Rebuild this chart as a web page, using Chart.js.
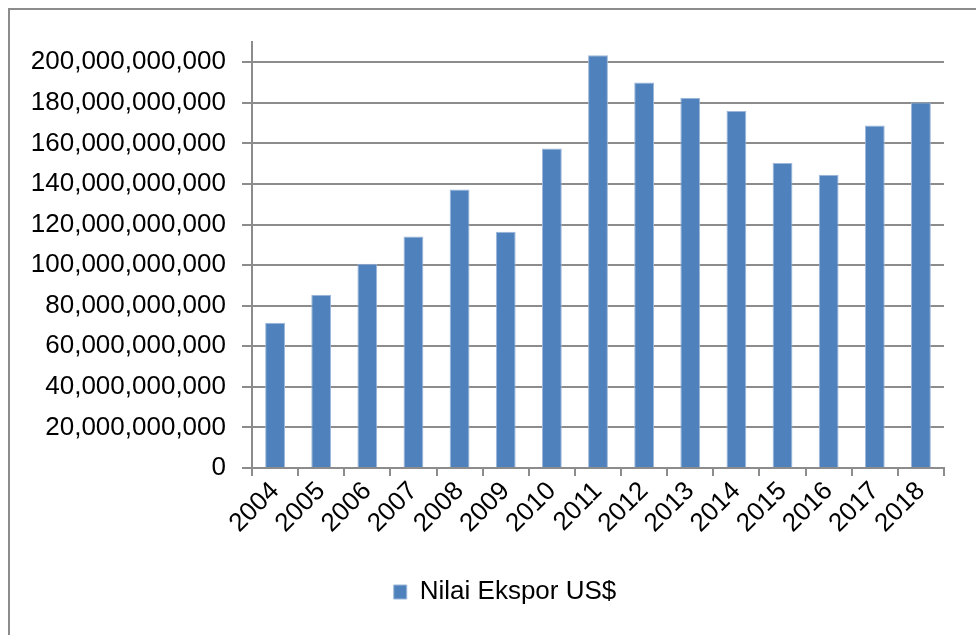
<!DOCTYPE html>
<html>
<head>
<meta charset="utf-8">
<script src="https://cdn.jsdelivr.net/npm/chart.js@4.4.1/dist/chart.umd.min.js"></script>
<style>
    html, body { margin: 0; padding: 0; background: #fff; overflow: hidden; }
    #wrap { position: relative; width: 976px; height: 635px; }
    #frame {
        position: absolute; left: 8px; top: 8px; width: 1000px; height: 700px;
        border-left: 2px solid #8c8c8c; border-top: 2px solid #8c8c8c;
    }
    #exportChart { position: absolute; left: 0; top: 0; }
</style>
</head>
<body>
<div id="wrap">
    <div id="frame"></div>
    <canvas id="exportChart" width="976" height="635"></canvas>
</div>
<script>
// Data
const years = ['2004', '2005', '2006', '2007', '2008', '2009', '2010', '2011',
    '2012', '2013', '2014', '2015', '2016', '2017', '2018'];
const exportValues = [71.6e9, 85.4e9, 100.7e9, 114.1e9, 137.3e9, 116.5e9, 157.5e9, 203.5e9,
    190.0e9, 182.5e9, 176.0e9, 150.4e9, 144.5e9, 168.8e9, 180.2e9];
const yTickValues = [0, 20e9, 40e9, 60e9, 80e9, 100e9, 120e9, 140e9, 160e9, 180e9, 200e9];
const seriesLabel = 'Nilai Ekspor US$';

const GRID_COLOR = '#8c8c8c';
const BAR_COLOR = '#4f81bd';

Chart.defaults.font.family = "'Liberation Sans', Arial, sans-serif";
Chart.defaults.color = '#000';

// Nudge the legend a bit to the right, like the original
const legendShift = {
    id: 'legendShift',
    afterLayout(chart) {
        const lg = chart.legend;
        if (!lg) return;
        lg.left += 33;
        lg.right += 33;
    }
};

const ctx = document.getElementById('exportChart');

new Chart(ctx, {
    type: 'bar',
    data: {
        labels: years,
        datasets: [{
            label: seriesLabel,
            data: exportValues,
            backgroundColor: BAR_COLOR,
            borderColor: '#9db7da',
            borderWidth: 1,
            barPercentage: 0.43,
            categoryPercentage: 1.0
        }]
    },
    options: {
        responsive: false,
        animation: false,
        layout: {
            padding: { left: 0, right: 32, top: 42, bottom: 20 }
        },
        plugins: {
            tooltip: { enabled: false },
            legend: {
                display: true,
                position: 'bottom',
                labels: {
                    boxWidth: 13,
                    boxHeight: 14,
                    padding: 10,
                    font: { size: 26 },
                    color: '#000'
                }
            }
        },
        scales: {
            x: {
                grid: {
                    display: true,
                    drawOnChartArea: false,
                    drawTicks: true,
                    tickLength: 8,
                    color: GRID_COLOR,
                    lineWidth: 2,
                    offset: true
                },
                border: { display: true, color: GRID_COLOR, width: 2 },
                ticks: {
                    minRotation: 45,
                    maxRotation: 45,
                    autoSkip: false,
                    padding: 0,
                    font: { size: 26 },
                    color: '#000'
                },
                afterFit: function (scale) {
                    scale.height = 101;
                }
            },
            y: {
                min: 0,
                max: 210e9,
                grid: {
                    color: GRID_COLOR,
                    lineWidth: 2,
                    tickLength: 10
                },
                border: { display: true, color: GRID_COLOR, width: 2 },
                ticks: {
                    padding: 16,
                    font: { size: 26 },
                    color: '#000',
                    callback: function (value) {
                        return value.toLocaleString('en-US');
                    }
                },
                afterBuildTicks: function (scale) {
                    scale.ticks = yTickValues.map(v => ({ value: v }));
                },
                afterFit: function (scale) {
                    scale.width = 252;
                }
            }
        }
    },
    plugins: [legendShift]
});
</script>
</body>
</html>
